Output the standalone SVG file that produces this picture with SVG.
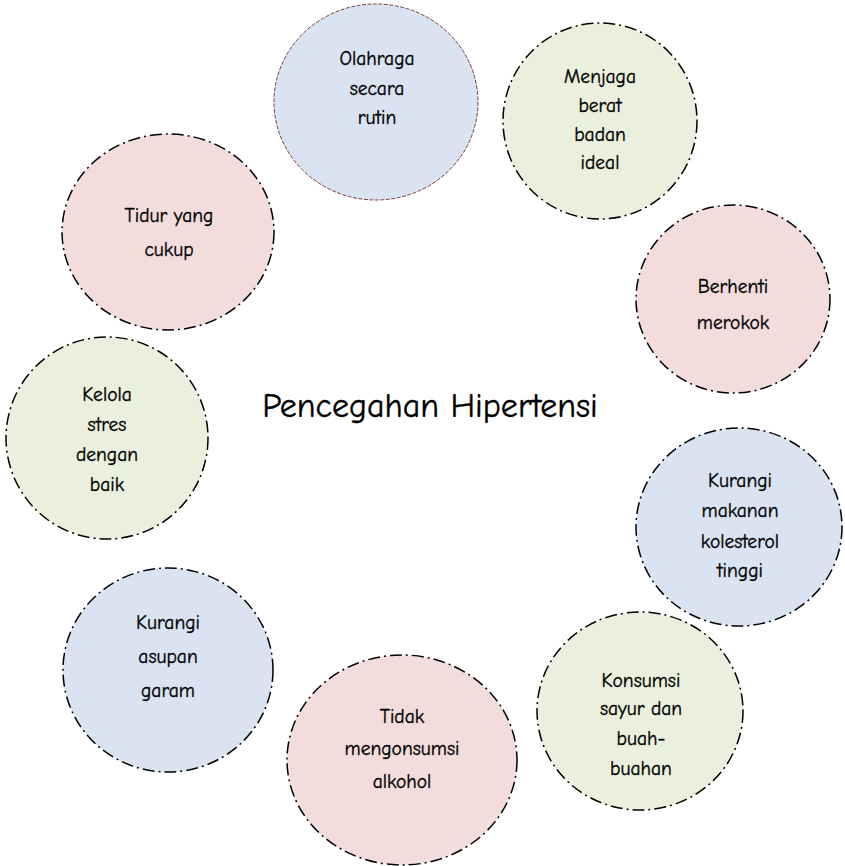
<svg xmlns="http://www.w3.org/2000/svg" width="845" height="866" viewBox="0 0 845 866">
<style>
.n{stroke:#000;stroke-width:1.5;stroke-dasharray:12 4 2 4}
.b{fill:#dae3f1}.g{fill:#eaf0dd}.p{fill:#f2dcdc}
.n0{stroke:#7a3b3b;stroke-width:1;stroke-dasharray:4 1.5}
text{font-family:"Comic Sans MS","Comic Neue","Liberation Sans",sans-serif;font-size:19.5px;fill:#000;stroke:#000;stroke-width:0.35;text-anchor:middle}
.t{font-size:34px;stroke-width:0.4}
</style>
<rect width="845" height="866" fill="#fff"/>
<g id="connectors"/>
<g id="olahraga"><ellipse class="b n0" cx="376" cy="102" rx="102" ry="98"/>
<text x="377" y="65">Olahraga</text><text x="377" y="95">secara</text><text x="377" y="124">rutin</text></g>
<g id="menjaga"><ellipse class="g n" cx="600" cy="121" rx="97" ry="98"/>
<text x="600" y="83">Menjaga</text><text x="600" y="112">berat</text><text x="600" y="141">badan</text><text x="600" y="169">ideal</text></g>
<g id="berhenti"><ellipse class="p n" cx="733" cy="299" rx="97" ry="94"/>
<text x="733" y="293">Berhenti</text><text x="733" y="329">merokok</text></g>
<g id="kolesterol"><ellipse class="b n" cx="739" cy="527" rx="103" ry="99"/>
<text x="740" y="487">Kurangi</text><text x="740" y="517">makanan</text><text x="740" y="548">kolesterol</text><text x="740" y="577">tinggi</text></g>
<g id="sayur"><ellipse class="g n" cx="640" cy="711" rx="103" ry="99"/>
<text x="641" y="687">Konsumsi</text><text x="641" y="715">sayur dan</text><text x="641" y="745">buah-</text><text x="641" y="775">buahan</text></g>
<g id="alkohol"><ellipse class="p n" cx="402" cy="760" rx="115" ry="105"/>
<text x="402" y="723">Tidak</text><text x="402" y="755">mengonsumsi</text><text x="402" y="788">alkohol</text></g>
<g id="garam"><ellipse class="b n" cx="168" cy="670" rx="105" ry="102"/>
<text x="168" y="629">Kurangi</text><text x="168" y="663">asupan</text><text x="168" y="697">garam</text></g>
<g id="stres"><ellipse class="g n" cx="107" cy="438" rx="101" ry="101"/>
<text x="107" y="401">Kelola</text><text x="107" y="431">stres</text><text x="107" y="461">dengan</text><text x="107" y="491">baik</text></g>
<g id="tidur"><ellipse class="p n" cx="168" cy="232" rx="106" ry="98"/>
<text x="169" y="222">Tidur yang</text><text x="169" y="256">cukup</text></g>
<g id="title"><text class="t" x="430" y="417">Pencegahan Hipertensi</text></g>
</svg>
